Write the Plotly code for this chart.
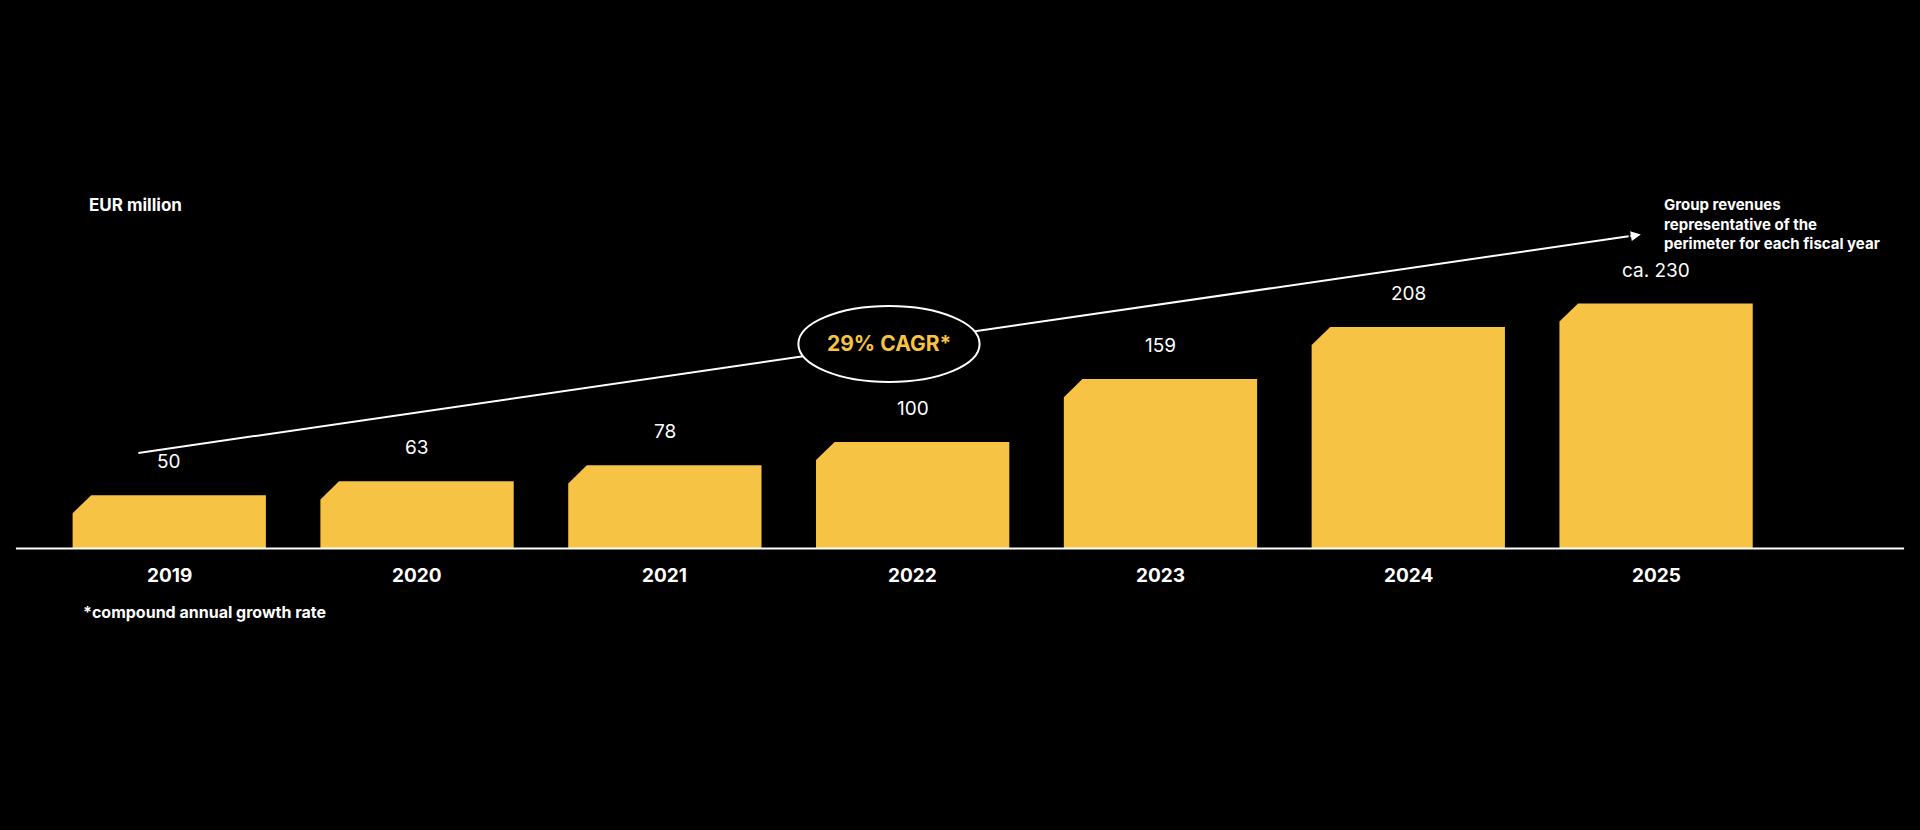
import plotly.graph_objects as go

years = ["2019", "2020", "2021", "2022", "2023", "2024", "2025"]
values = [50, 63, 78, 100, 159, 208, 230]
value_labels = ["50", "63", "78", "100", "159", "208", "ca. 230"]

YEL = "#F6C344"
W, H = 1568, 678
fig = go.Figure()
hw, cx, cy = 0.39, 0.075, 17
for i, v in enumerate(values):
    xs = [i - hw, i - hw, i - hw + cx, i + hw, i + hw, i - hw]
    ys = [0, v - cy, v, v, 0, 0]
    fig.add_trace(go.Scatter(x=xs, y=ys, fill="toself", fillcolor=YEL, mode="none",
                             hoverinfo="skip", showlegend=False))
    fig.add_annotation(x=i, y=v, yshift=20, text=value_labels[i], showarrow=False,
                       font=dict(size=19, color="white"), yanchor="bottom")
    fig.add_annotation(x=i, y=0, yshift=-14, text="<b>%s</b>" % years[i], showarrow=False,
                       font=dict(size=19, color="white"), yanchor="top")

def px(x): return x / W
def py(y): return 1 - y / H

shapes = [
    dict(type="line", xref="paper", yref="paper", x0=px(13), x1=px(1555), y0=py(448), y1=py(448),
         line=dict(color="white", width=2)),
    dict(type="line", xref="paper", yref="paper", x0=px(113), y0=py(370), x1=px(1330), y1=py(193),
         line=dict(color="white", width=2)),
    dict(type="circle", xref="paper", yref="paper", x0=px(652), x1=px(800), y0=py(250), y1=py(312),
         fillcolor="black", line=dict(color="white", width=2)),
]
fig.add_annotation(xref="paper", yref="paper", x=px(1340), y=py(191.5), ax=-12, ay=2,
                   showarrow=True, arrowhead=2, arrowsize=1, arrowwidth=2, arrowcolor="white", text="")
fig.add_annotation(xref="paper", yref="paper", x=px(726), y=py(281), text="<b>29% CAGR*</b>",
                   showarrow=False, font=dict(size=21, color=YEL))
fig.add_annotation(xref="paper", yref="paper", x=px(71), y=py(158), xanchor="left",
                   text="<b>EUR million</b>", showarrow=False, font=dict(size=17, color="white"))
fig.add_annotation(xref="paper", yref="paper", x=px(66), y=py(510), xanchor="left",
                   text="<b>*compound annual growth rate</b>", showarrow=False,
                   font=dict(size=16, color="white"))
fig.add_annotation(xref="paper", yref="paper", x=px(1357), y=py(158), xanchor="left", yanchor="top",
                   align="left",
                   text="<b>Group revenues<br>representative of the<br>perimeter for each fiscal year</b>",
                   showarrow=False, font=dict(size=15, color="white"))

fig.update_layout(
    autosize=True, paper_bgcolor="black", plot_bgcolor="black",
    margin=dict(l=0, r=0, t=0, b=0), shapes=shapes,
    font=dict(family="Inter, sans-serif", color="white"),
    xaxis=dict(range=[-0.683, 7.065], visible=False, fixedrange=True),
    yaxis=dict(range=[-264.4, 515], visible=False, fixedrange=True),
)
fig.write_html("out.html", default_width="100vw", default_height="100vh",
               config={"displayModeBar": False},
               post_script="document.body.style.margin='0';document.body.style.overflow='hidden';"
                           "document.body.style.background='black';window.dispatchEvent(new Event('resize'));")
